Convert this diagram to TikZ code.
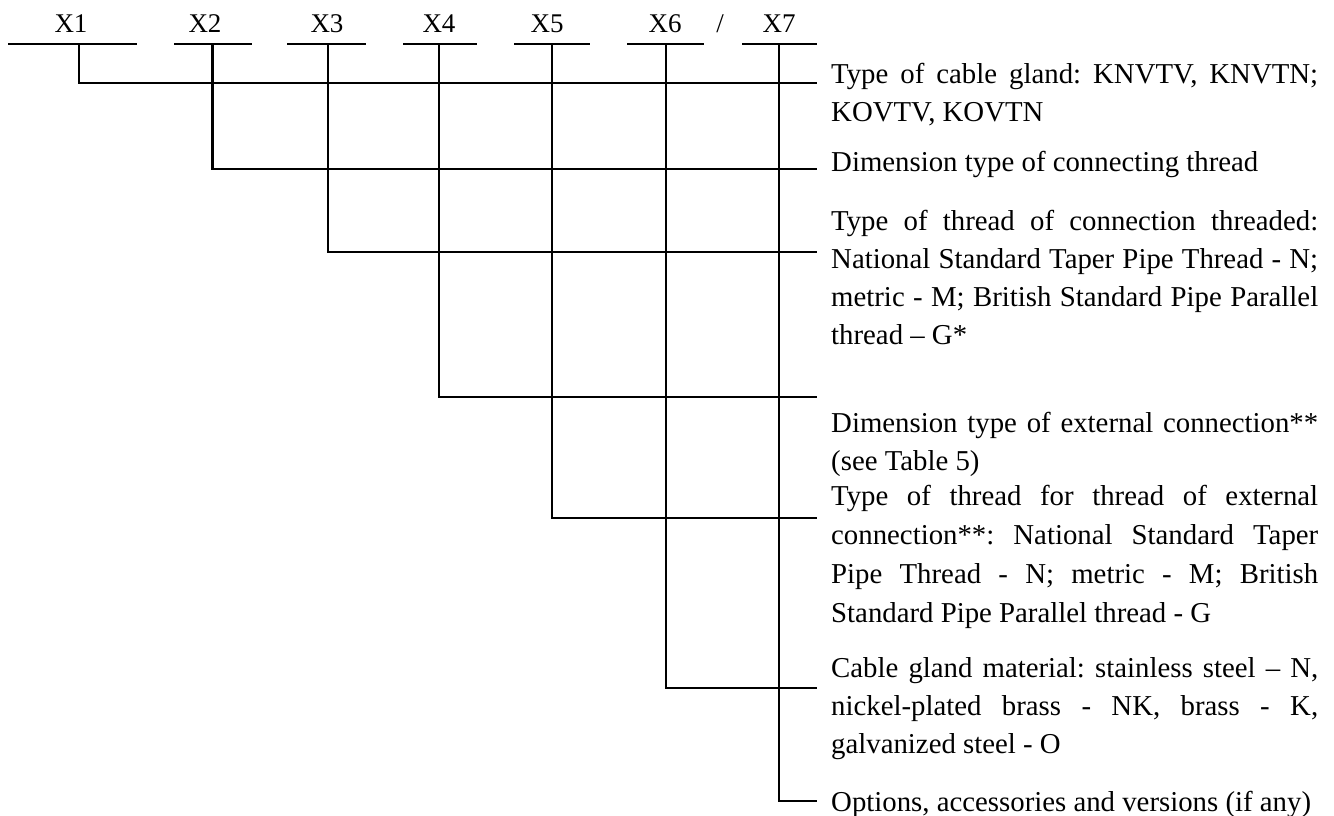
\documentclass[tikz,border=0pt]{standalone}
\usepackage{fontspec}
\setmainfont{Liberation Serif}
\usetikzlibrary{positioning}
\tolerance=10000
\hbadness=10000
\hyphenpenalty=10000
\frenchspacing

\begin{document}
\begin{tikzpicture}[
  x=1pt, y=-1pt,
  code/.style={font=\fontsize{27}{32}\selectfont, anchor=base, inner sep=0pt},
  desc/.style={font=\fontsize{28.8}{38}\selectfont, anchor=base west, inner sep=0pt, text width=487pt, align=justify},
  leader/.style={line width=2.3pt},
]
\useasboundingbox (0,0) rectangle (1334,816);

% Code positions
\node[code] (x1) at (71,33) {X1};
\node[code] (x2) at (205,33) {X2};
\node[code] (x3) at (327,33) {X3};
\node[code] (x4) at (439,33) {X4};
\node[code] (x5) at (547,33) {X5};
\node[code] (x6) at (665,33) {X6};
\node[code] (slash) at (720,33) {/};
\node[code] (x7) at (779,33) {X7};

% Underlines
\draw[leader] (8,44) -- (137,44);
\draw[leader] (174,44) -- (252,44);
\draw[leader] (287,44) -- (366,44);
\draw[leader] (403,44) -- (477,44);
\draw[leader] (514,44) -- (590,44);
\draw[leader] (627,44) -- (704,44);
\draw[leader] (742,44) -- (817,44);

% Descriptions
\node[desc] (d1) at (831,84) {Type of cable gland: KNVTV, KNVTN;\linebreak KOVTV, KOVTN};
\node[desc] (d2) at (831,171) {Dimension type of connecting thread};
\node[desc] (d3) at (831,230) {Type of thread of connection threaded:\linebreak National Standard Taper Pipe Thread - N;\linebreak metric - M; British Standard Pipe Parallel\linebreak thread -- G*};
\node[desc] (d4) at (831,432) {Dimension type of external connection**\linebreak (see Table 5)};
\node[desc, font=\fontsize{28.8}{39.3}\selectfont] (d5) at (831,505) {Type of thread for thread of external\linebreak connection**: National Standard Taper\linebreak Pipe Thread - N; metric - M; British\linebreak Standard Pipe Parallel thread - G};
\node[desc] (d6) at (831,677) {Cable gland material: stainless steel -- N,\linebreak nickel-plated brass - NK, brass - K,\linebreak galvanized steel - O};
\node[desc] (d7) at (831,811) {Options, accessories and versions (if any)};

% Leader ends
\coordinate (t1) at (79,44);
\coordinate (t2) at (212.5,44);
\coordinate (t3) at (328,44);
\coordinate (t4) at (439,44);
\coordinate (t5) at (552,44);
\coordinate (t6) at (666,44);
\coordinate (t7) at (779,44);
\coordinate (e1) at (817,83);
\coordinate (e2) at (817,169);
\coordinate (e3) at (817,252);
\coordinate (e4) at (817,397);
\coordinate (e5) at (817,518);
\coordinate (e6) at (817,688);
\coordinate (e7) at (817,801);

% Leaders
\draw[leader] (t1) |- (e1);
\draw[leader] (t2) |- (e2);
\draw[leader] (t3) |- (e3);
\draw[leader] (t4) |- (e4);
\draw[leader] (t5) |- (e5);
\draw[leader] (t6) |- (e6);
\draw[leader] (t7) |- (e7);

\end{tikzpicture}
\end{document}
